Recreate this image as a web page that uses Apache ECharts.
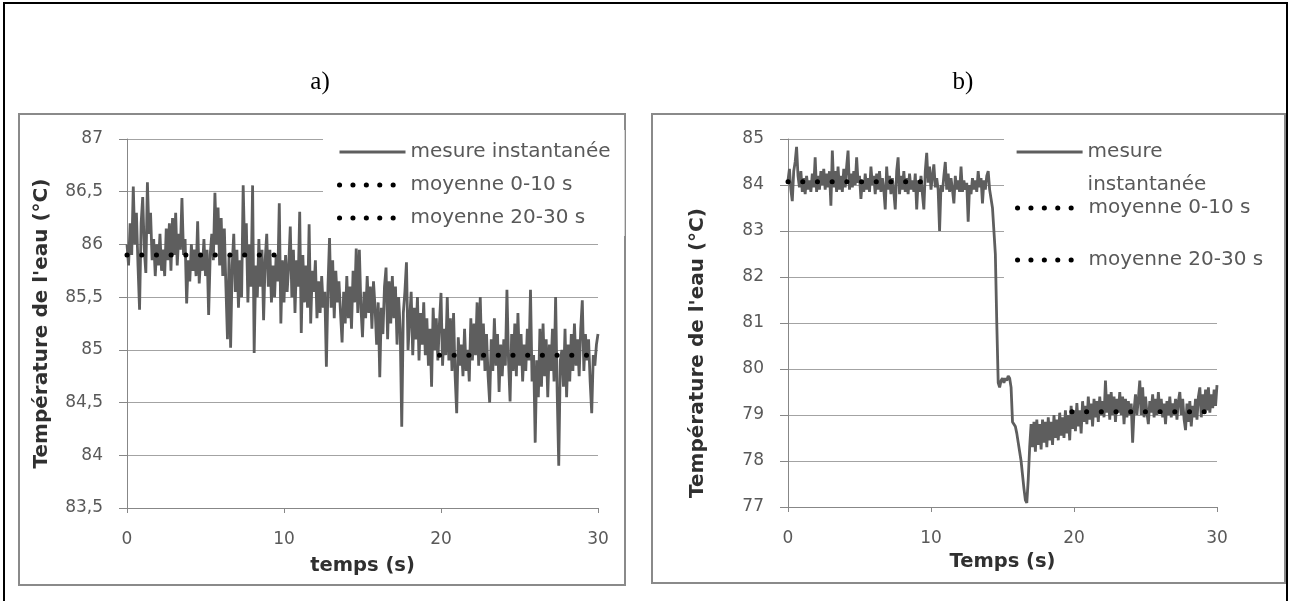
<!DOCTYPE html>
<html>
<head>
<meta charset="utf-8">
<script src="https://cdn.jsdelivr.net/npm/echarts@6/dist/echarts.min.js"></script>
<style>
html,body{margin:0;padding:0;background:#fff;}
#chart{width:1290px;height:601px;}
</style>
</head>
<body>
<div id="chart"></div>
<script>
// ---------- data ----------
const SAMPLE_STEP = 0.1; // seconds between samples
const panelTitles = ['a)', 'b)'];
const seriesNames = ['mesure instantanée', 'moyenne 0-10 s', 'moyenne 20-30 s'];
const xAxisNames = ['temps (s)', 'Temps (s)'];
const yAxisName = "Température de l'eau (°C)";

// panel a : instantaneous water temperature (°C), one value every 0.1 s
const tempA = [
  86.00,85.80,86.20,85.90,86.55,86.00,86.30,85.80,85.38,86.20,86.45,85.95,85.73,86.59,86.10,
  86.30,85.85,86.05,85.70,86.00,85.80,86.10,85.75,85.95,85.70,86.15,85.85,86.20,85.75,86.25,
  85.90,86.30,85.80,86.10,85.95,86.44,85.90,86.05,85.44,85.85,85.65,86.00,85.75,85.95,85.70,
  86.22,85.63,85.90,85.75,86.05,85.70,85.95,85.33,85.90,86.10,85.85,86.49,86.00,86.35,85.80,
  86.25,85.70,86.15,85.60,85.10,85.90,85.02,85.80,86.10,85.55,85.95,85.40,85.85,85.50,86.56,
  85.90,86.20,85.45,86.00,85.60,86.56,84.97,85.80,85.50,86.05,85.60,85.95,85.28,85.85,86.10,
  85.60,85.95,85.45,85.80,85.50,85.90,85.65,86.39,85.25,85.85,85.45,85.90,85.55,85.80,86.17,
  85.50,85.95,85.35,85.85,85.60,86.31,85.16,85.90,85.45,85.80,85.40,86.19,85.25,85.75,85.55,
  85.85,85.30,85.65,85.35,85.70,85.40,85.55,84.84,85.60,86.06,85.40,85.85,85.30,85.75,85.45,
  85.65,85.35,85.07,85.55,85.25,85.70,85.30,85.60,85.20,85.75,85.45,85.96,85.35,85.95,85.40,
  85.12,85.55,85.30,85.70,85.35,85.60,85.20,85.65,85.40,85.05,85.45,84.74,85.40,85.15,85.60,
  85.78,85.10,85.65,85.25,85.70,85.30,85.60,85.05,85.50,85.20,84.27,85.35,85.55,85.83,85.00,
  85.28,85.55,84.95,85.40,85.10,85.50,84.90,85.35,85.05,85.45,84.95,85.30,84.85,85.20,84.65,
  85.40,85.00,85.30,84.90,85.25,85.54,84.85,85.20,84.95,85.50,84.90,85.30,84.80,85.35,84.75,
  84.40,85.12,84.85,85.05,84.75,85.20,84.80,85.00,84.70,85.30,84.90,85.25,84.95,85.45,84.85,
  85.50,84.90,85.25,84.80,85.15,84.75,84.50,85.10,84.80,85.30,84.85,85.15,84.60,85.05,84.75,
  85.10,84.85,85.57,84.90,84.51,85.15,84.80,85.25,84.75,85.35,84.85,85.15,84.70,85.05,84.80,
  85.20,84.90,85.57,84.70,84.95,84.12,84.90,84.55,85.20,84.65,85.25,84.75,85.10,84.55,85.05,
  84.80,85.20,84.70,85.50,84.60,83.90,84.90,85.00,84.65,85.20,84.55,85.05,84.70,85.15,84.80,
  85.25,84.85,85.10,84.75,85.20,85.47,84.80,85.15,84.90,85.10,84.70,84.40,84.95,84.85,85.05,
  85.15
];
// panel b : instantaneous water temperature (°C), one value every 0.1 s
const tempB = [
  84.10,84.35,83.90,83.65,84.30,84.50,84.83,84.20,83.95,84.30,83.85,84.15,83.80,84.20,83.90,
  84.10,83.85,84.25,83.95,84.60,83.85,84.20,83.90,84.30,84.00,84.35,83.90,84.25,83.95,84.30,
  83.55,84.75,83.95,84.30,83.85,84.40,83.90,84.20,83.85,84.35,83.95,84.40,84.75,83.90,84.25,
  83.95,84.30,84.00,84.60,84.05,84.20,83.70,84.10,83.85,84.25,83.90,84.15,83.85,84.40,84.00,
  84.20,83.80,84.25,83.90,84.30,83.85,84.15,83.90,83.47,84.40,83.90,84.20,83.80,84.15,83.85,
  83.47,84.30,84.60,83.80,84.20,83.90,84.30,83.85,84.15,83.80,84.25,83.90,84.10,83.85,84.25,
  83.47,84.10,83.85,84.20,83.80,83.47,84.30,84.70,84.05,84.40,83.90,84.20,84.45,83.95,84.15,
  83.90,83.00,84.00,83.85,84.20,84.50,83.90,84.25,83.85,84.15,83.90,83.60,84.20,83.90,84.10,
  83.85,84.40,83.85,84.10,83.90,84.05,83.20,84.00,83.80,84.15,83.90,84.10,83.85,84.30,83.95,
  84.15,83.60,84.10,83.90,84.20,84.30,83.90,83.70,83.50,83.00,82.50,81.00,79.70,79.60,79.75,
  79.80,79.70,79.80,79.75,79.85,79.80,79.60,78.85,78.80,78.75,78.60,78.40,78.20,78.00,77.70,
  77.40,77.15,77.09,77.60,78.30,78.80,78.30,78.85,78.20,78.90,78.35,78.80,78.25,78.90,78.40,
  78.85,78.30,78.95,78.45,78.85,78.35,79.00,78.50,78.90,78.45,79.05,78.55,78.95,78.50,79.10,
  78.60,79.00,78.45,79.20,78.70,79.10,78.65,79.26,78.75,79.10,78.60,79.30,78.85,79.20,78.80,
  79.40,78.90,79.25,78.75,79.35,78.95,79.30,78.85,79.40,79.00,79.30,78.95,79.75,79.05,79.45,
  78.90,79.50,79.00,79.40,78.85,79.35,79.05,79.50,79.00,79.40,78.80,79.35,78.95,79.30,79.00,
  79.25,78.40,79.10,79.45,79.00,79.35,79.75,79.00,79.60,78.95,79.40,79.05,78.80,79.30,79.05,
  79.45,78.95,79.35,79.00,79.50,79.05,79.35,78.95,79.25,78.80,79.30,79.00,79.40,78.95,79.25,
  79.00,79.35,78.90,79.30,79.50,79.00,79.35,78.90,78.67,79.25,78.85,79.30,78.75,79.20,78.95,
  79.35,78.90,79.40,79.60,78.95,79.45,79.05,79.55,79.10,79.60,79.05,79.45,79.15,79.55,79.20,
  79.65
];

// mean lines (start time, end time) and value
const meanA1Times = [0, 9.4];      const meanA1Value = 85.90;
const meanA2Times = [19.9, 29.6];  const meanA2Value = 84.95;
const meanB1Times = [0, 9.4];      const meanB1Value = 84.07;
const meanB2Times = [19.85, 29.6]; const meanB2Value = 79.07;

// axis ranges / ticks
const xRange = {min: 0, max: 30, interval: 10};
const yRangeA = {min: 83.5, max: 87, interval: 0.5};
const yRangeB = {min: 77, max: 85, interval: 1};

// ---------- build ----------
const toPairs = arr => arr.map((v, i) => [+(i * SAMPLE_STEP).toFixed(2), v]);
const segment = (times, value) => times.map(t => [t, value]);

const FONT = 'DejaVu Sans';
const LABEL_COLOR = '#595959';
const NAME_COLOR = '#303030';
const GRID_COLOR = '#a3a3a3';
const AXIS_COLOR = '#878787';
const LINE_COLOR = '#5e5e5e';

function xAxisOpt(idx, name, nameGap) {
  return {
    type: 'value', gridIndex: idx, min: xRange.min, max: xRange.max, interval: xRange.interval,
    axisLine: {show: true, lineStyle: {color: AXIS_COLOR, width: 1}},
    axisTick: {show: true, length: 5, lineStyle: {color: AXIS_COLOR}},
    axisLabel: {margin: 23, fontSize: 17, color: LABEL_COLOR, fontFamily: FONT},
    splitLine: {show: false},
    name: name, nameLocation: 'middle', nameGap: nameGap,
    nameTextStyle: {fontSize: 19.5, fontWeight: 'bold', color: NAME_COLOR, fontFamily: FONT}
  };
}
function yAxisOpt(idx, range, nameGap, namePad) {
  return {
    type: 'value', gridIndex: idx, min: range.min, max: range.max, interval: range.interval,
    axisLine: {show: true, lineStyle: {color: AXIS_COLOR, width: 1}},
    axisTick: {show: true, length: 8, lineStyle: {color: AXIS_COLOR}},
    axisLabel: {margin: 24, fontSize: 17, color: LABEL_COLOR, fontFamily: FONT,
      formatter: v => String(v).replace('.', ',')},
    splitLine: {show: true, lineStyle: {color: GRID_COLOR, width: 1}},
    name: yAxisName, nameLocation: 'middle', nameGap: nameGap, nameRotate: 90,
    nameTextStyle: {fontSize: 20, fontWeight: 'bold', color: NAME_COLOR, fontFamily: FONT, padding: namePad}
  };
}
const measureStyle = {color: LINE_COLOR, width: 2.8};
const dotStyle = {color: '#000', width: 5, type: [0.1, 14.6], cap: 'round'};
function lineSeries(name, xi, data, style, z) {
  return {
    type: 'line', name: name, xAxisIndex: xi, yAxisIndex: xi, data: data,
    symbol: 'none', showSymbol: false, lineStyle: style, itemStyle: {color: style.color},
    z: z, silent: true, animation: false
  };
}

const legendText = {fontSize: 20, color: LABEL_COLOR, fontFamily: FONT, lineHeight: 20};
const legendMeasureLine = {color: LINE_COLOR, width: 3.2, type: 'solid', cap: 'butt'};
const legendDotLine = {color: '#000', width: 5, type: [0.1, 13.3], cap: 'round'};
const legendItem = (name, isMeasure) => ({
  name: name, lineStyle: isMeasure ? legendMeasureLine : legendDotLine
});
const legendCommon = {itemWidth: 66, itemHeight: 14, selectedMode: false,
  itemStyle: {opacity: 0}};

const option = {
  animation: false,
  backgroundColor: '#fff',
  title: [
    {text: panelTitles[0], left: 320, top: 70, textAlign: 'center', padding: 0,
      textStyle: {fontFamily: 'Liberation Serif', fontSize: 25, fontWeight: 'normal', color: '#000'}},
    {text: panelTitles[1], left: 963, top: 70, textAlign: 'center', padding: 0,
      textStyle: {fontFamily: 'Liberation Serif', fontSize: 25, fontWeight: 'normal', color: '#000'}}
  ],
  grid: [
    {left: 127, top: 139, width: 471, height: 369},
    {left: 788, top: 139, width: 429, height: 368}
  ],
  xAxis: [xAxisOpt(0, xAxisNames[0], 48), xAxisOpt(1, xAxisNames[1], 45)],
  yAxis: [yAxisOpt(0, yRangeA, 75, [0, 0, 0, 0]), yAxisOpt(1, yRangeB, 80, [0, 60, 0, 0])],
  legend: [
    Object.assign({}, legendCommon, {
      data: [legendItem(seriesNames[0], true), legendItem(seriesNames[1]), legendItem(seriesNames[2])],
      orient: 'vertical', left: 323, top: 130, itemGap: 13, padding: [12, 14, 8, 14],
      backgroundColor: '#fff', textStyle: legendText}),
    Object.assign({}, legendCommon, {
      data: [legendItem(seriesNames[0], true)], left: 1015, top: 102.5, padding: 0,
      formatter: () => '\nmesure\ninstantanée',
      textStyle: Object.assign({}, legendText, {lineHeight: 33})}),
    Object.assign({}, legendCommon, {
      data: [legendItem(seriesNames[1])], left: 1015, top: 198, padding: 0, textStyle: legendText}),
    Object.assign({}, legendCommon, {
      data: [legendItem(seriesNames[2])], left: 1015, top: 250, padding: 0, textStyle: legendText})
  ],
  graphic: [
    {type: 'polyline', shape: {points: [[4, 601], [4, 3], [1287, 3], [1287, 601]]},
      style: {stroke: '#000', lineWidth: 2, fill: null}, silent: true},
    {type: 'rect', shape: {x: 19, y: 114, width: 606, height: 471},
      style: {stroke: '#8a8a8a', lineWidth: 2, fill: null}, silent: true},
    {type: 'rect', shape: {x: 652, y: 114, width: 633, height: 469},
      style: {stroke: '#8a8a8a', lineWidth: 2, fill: null}, silent: true},
    {type: 'rect', z: 1, shape: {x: 1004, y: 128, width: 276, height: 164},
      style: {fill: '#fff'}, silent: true}
  ],
  series: [
    lineSeries(seriesNames[0], 0, toPairs(tempA), measureStyle, 2),
    lineSeries(seriesNames[1], 0, segment(meanA1Times, meanA1Value), dotStyle, 3),
    lineSeries(seriesNames[2], 0, segment(meanA2Times, meanA2Value), dotStyle, 3),
    lineSeries(seriesNames[0], 1, toPairs(tempB), measureStyle, 2),
    lineSeries(seriesNames[1], 1, segment(meanB1Times, meanB1Value), dotStyle, 3),
    lineSeries(seriesNames[2], 1, segment(meanB2Times, meanB2Value), dotStyle, 3)
  ]
};

const chart = echarts.init(document.getElementById('chart'), null, {renderer: 'canvas'});
chart.setOption(option);
</script>
</body>
</html>
